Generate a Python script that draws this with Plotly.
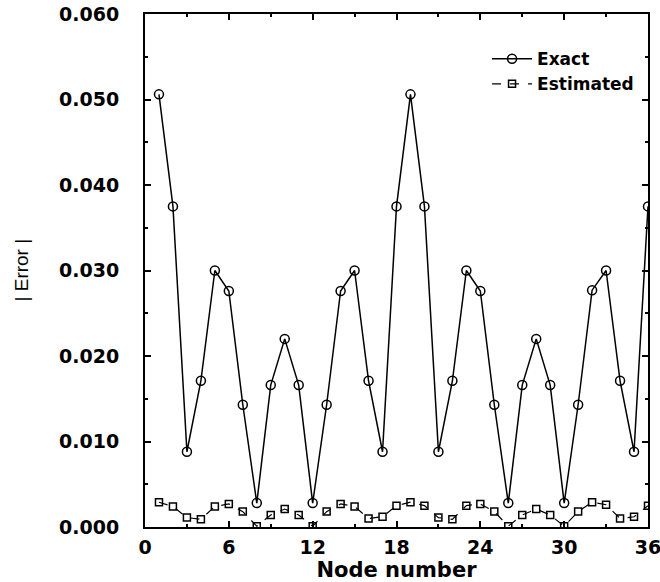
import plotly.graph_objects as go

nodes = list(range(1, 37))
exact = [0.0506, 0.0375, 0.0088, 0.0171, 0.0300, 0.0276, 0.0143, 0.0028, 0.0166,
         0.0220, 0.0166, 0.0028, 0.0143, 0.0276, 0.0300, 0.0171, 0.0088, 0.0375,
         0.0506, 0.0375, 0.0088, 0.0171, 0.0300, 0.0276, 0.0143, 0.0028, 0.0166,
         0.0220, 0.0166, 0.0028, 0.0143, 0.0277, 0.0300, 0.0171, 0.0088, 0.0375]
estimated = [0.0029, 0.0024, 0.0011, 0.0009, 0.0024, 0.0027, 0.0018, 0.0001, 0.0014,
             0.0021, 0.0014, 0.0001, 0.0018, 0.0027, 0.0024, 0.0010, 0.0012, 0.0025,
             0.0029, 0.0025, 0.0011, 0.0009, 0.0025, 0.0027, 0.0018, 0.0001, 0.0014,
             0.0021, 0.0014, 0.0001, 0.0018, 0.0029, 0.0026, 0.0010, 0.0012, 0.0025]
xticks = [0, 6, 12, 18, 24, 30, 36]
yticks = [0.0, 0.01, 0.02, 0.03, 0.04, 0.05, 0.06]

fig = go.Figure()
fig.add_trace(go.Scatter(
    x=nodes, y=exact, name="Exact", mode="lines+markers",
    line=dict(color="black", width=1.5),
    marker=dict(symbol="circle-open", size=9, color="black", line=dict(width=1.5)),
))
fig.add_trace(go.Scatter(
    x=nodes, y=estimated, name="Estimated", mode="lines+markers",
    line=dict(color="black", width=1.2, dash="dash"),
    marker=dict(symbol="square-open", size=7, color="black", line=dict(width=1.5)),
))

axis_common = dict(
    showline=True, linecolor="black", linewidth=2, mirror="ticks",
    ticks="inside", ticklen=6, tickwidth=1.5, tickcolor="black",
    showgrid=False, zeroline=False, automargin=False,
    ticklabeloverflow="allow",
    tickfont=dict(family="DejaVu Sans", size=19, color="black", weight="bold"),
)

fig.update_xaxes(
    range=[0, 36], tickvals=xticks, ticktext=[str(v) for v in xticks],
    minor=dict(dtick=3, ticks="inside", ticklen=3, tickcolor="black"),
    ticklabelstandoff=2,
    title=dict(text="Node number", standoff=2,
               font=dict(family="DejaVu Sans", size=21, color="black", weight="bold")),
    **axis_common,
)
fig.update_yaxes(
    range=[0, 0.06], tickvals=yticks, ticktext=[f"{v:.3f}" for v in yticks],
    minor=dict(dtick=0.005, ticks="inside", ticklen=3, tickcolor="black"),
    ticklabelstandoff=20,
    **axis_common,
)

fig.add_annotation(
    text="| Error |", xref="paper", yref="paper", x=-0.2465, y=0.5,
    xanchor="center", yanchor="middle", showarrow=False, textangle=-90,
    font=dict(family="Liberation Sans", size=19, color="black"),
)

fig.update_layout(
    width=660, height=582,
    margin=dict(l=145, r=12, t=14, b=55),
    paper_bgcolor="white", plot_bgcolor="white",
    showlegend=True,
    legend=dict(x=0.68, y=0.947, xanchor="left", yanchor="top",
                bgcolor="rgba(0,0,0,0)", tracegroupgap=0, itemwidth=40,
                font=dict(family="DejaVu Sans", size=17, color="black", weight="bold")),
)

fig.write_html("out.html")
